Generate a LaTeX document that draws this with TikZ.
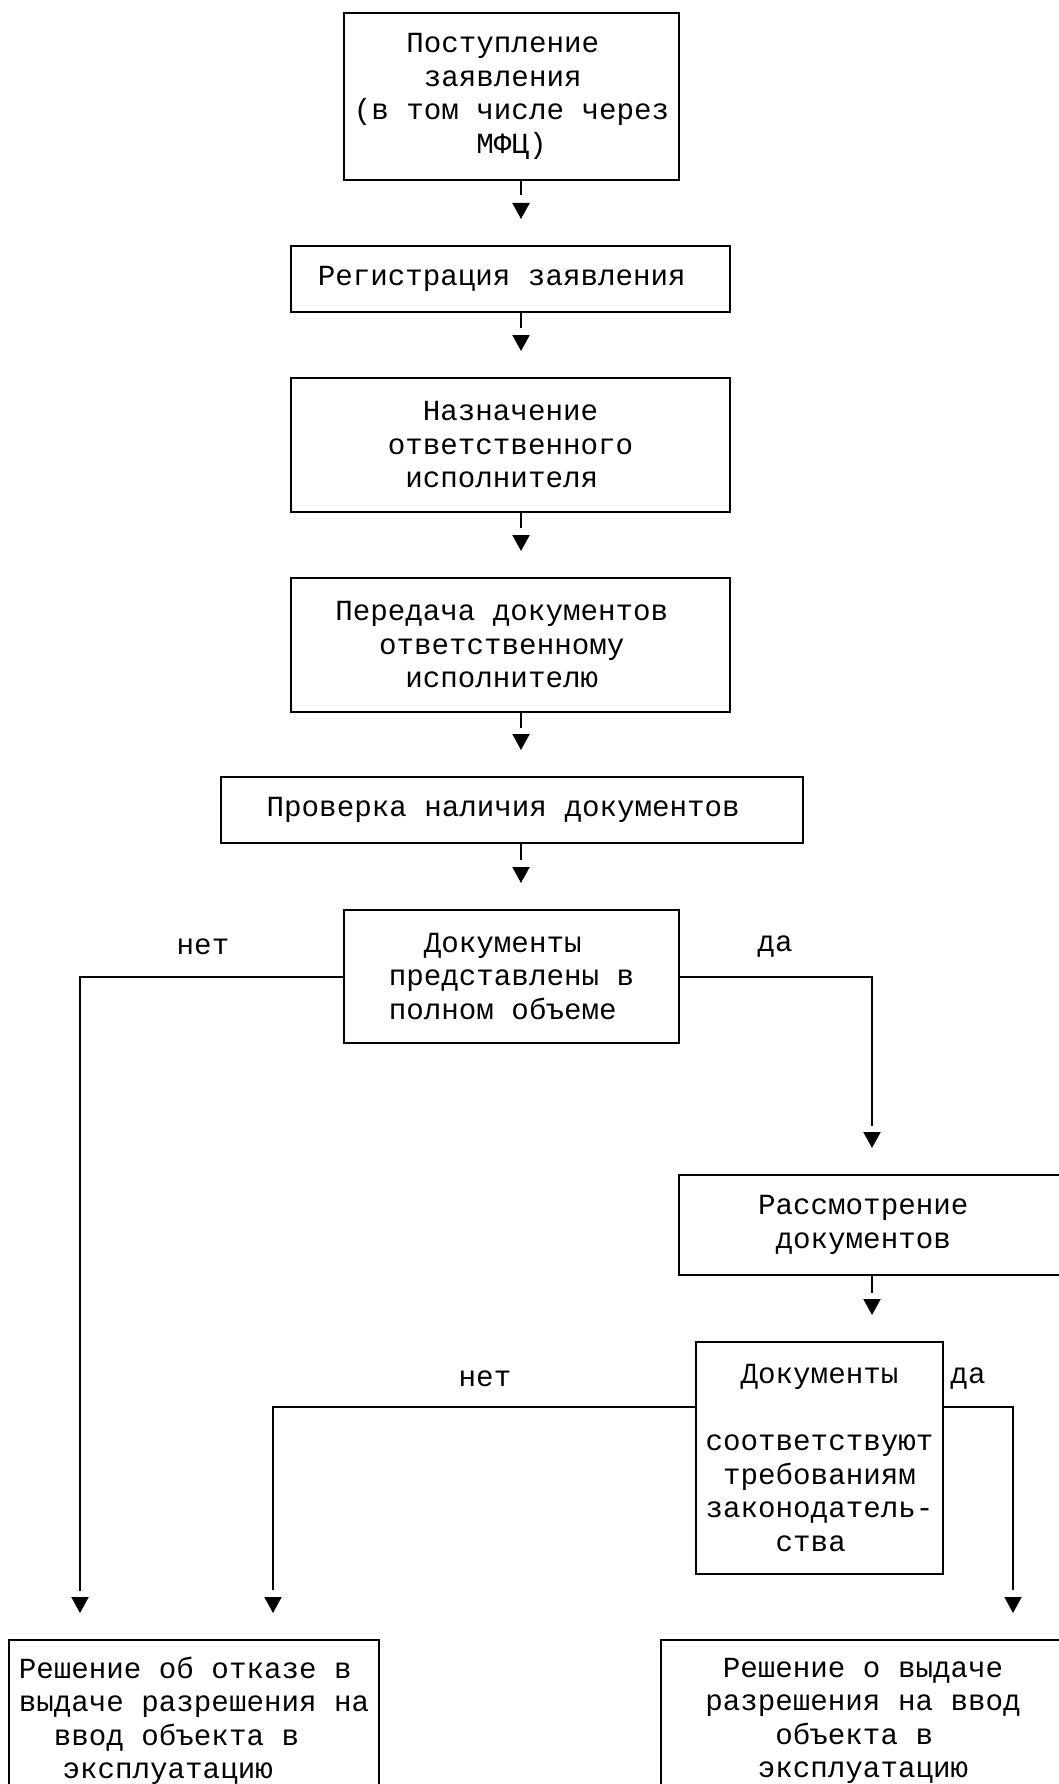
\documentclass[tikz,border=0pt]{standalone}
\usepackage{fontspec}
\setmainfont{Liberation Mono}
\usetikzlibrary{arrows.meta,calc}
\newcommand\pchar{\hphantom{x}}
\begin{document}
\begin{tikzpicture}[x=1pt,y=-1pt,
  box/.style={draw, line width=2pt, inner sep=0pt, align=center,
    font=\fontsize{29.2}{33.5}\selectfont},
  lbl/.style={inner sep=0pt, font=\fontsize{29.2}{33.5}\selectfont},
  conn/.style={line width=2pt, -{Triangle[length=16pt,width=17pt]}},
  stemlen/.style={dash pattern=on #1 off 3000pt}]
\useasboundingbox (0,0) rectangle (1059,1784);
\fill[white] (0,0) rectangle (1059,1784);
\clip (0,0) rectangle (1059,1784);

% columns of the connectors
\coordinate (colA) at (521,0);
\coordinate (colB) at (872,0);
\coordinate (colL) at (80,0);
\coordinate (colM) at (273,0);
\coordinate (colR) at (1013,0);

% boxes
\node[box, minimum width=335pt, minimum height=167pt] (b1) at (511.5,96.5)
  {Поступление\pchar\\заявления\pchar\\(в том числе через\\МФЦ)};
\node[box, minimum width=439pt, minimum height=66pt] (b2) at (510.5,279)
  {Регистрация заявления\pchar};
\node[box, minimum width=439pt, minimum height=134pt] (b3) at (510.5,445)
  {Назначение\\ответственного\\исполнителя\pchar};
\node[box, minimum width=439pt, minimum height=134pt] (b4) at (510.5,645)
  {Передача документов\pchar\\ответственному\pchar\\исполнителю\pchar};
\node[box, minimum width=582pt, minimum height=66pt] (b5) at (512,810)
  {Проверка наличия документов\pchar};
\node[box, minimum width=335pt, minimum height=133pt] (b6) at (511.5,976.5)
  {Документы\pchar\\представлены в\\полном объеме\pchar};
\node[box, minimum width=386pt, minimum height=100pt] (b7) at (872,1225)
  {Рассмотрение\pchar\\документов\pchar};
\node[box, minimum width=247pt, minimum height=232pt] (b8) at (819.5,1458)
  {Документы\\[33.5pt]соответствуют\\требованиям\\законодатель-\\ства\pchar};
\node[box, minimum width=370pt, minimum height=162pt] (bl) at (194,1721)
  {Решение об отказе в\pchar\\выдаче разрешения на\\ввод объекта в\pchar\pchar\\эксплуатацию\pchar\pchar\pchar};
\node[box, minimum width=404pt, minimum height=162pt] (br) at (863,1721)
  {Решение о выдаче\\разрешения на ввод\\объекта в\pchar\\эксплуатацию};

% labels
\node[lbl] (n1) at (203,947) {нет};
\node[lbl] (y1) at (775,947) {да};
\node[lbl] (n2) at (485,1379) {нет};
\node[lbl] (y2) at (968,1379) {да};

% connectors
\draw[conn, stemlen=14pt] (b1.south -| colA) -- ($(b2.north -| colA)+(0,-26)$);
\draw[conn, stemlen=15pt] (b2.south -| colA) -- ($(b3.north -| colA)+(0,-26)$);
\draw[conn, stemlen=15pt] (b3.south -| colA) -- ($(b4.north -| colA)+(0,-26)$);
\draw[conn, stemlen=15pt] (b4.south -| colA) -- ($(b5.north -| colA)+(0,-26)$);
\draw[conn, stemlen=16pt] (b5.south -| colA) -- ($(b6.north -| colA)+(0,-26)$);
\draw[conn, stemlen=341pt] (b6.east) -| ($(b7.north -| colB)+(0,-26)$);
\draw[conn, stemlen=877pt] (b6.west) -| ($(bl.north -| colL)+(0,-26)$);
\draw[conn, stemlen=17pt] (b7.south -| colB) -- ($(b8.north -| colB)+(0,-26)$);
\draw[conn, stemlen=605pt] ($(b8.north west)+(0,66)$) -| ($(bl.north -| colM)+(0,-26)$);
\draw[conn, stemlen=252pt] ($(b8.north east)+(0,66)$) -| ($(br.north -| colR)+(0,-26)$);
\end{tikzpicture}
\end{document}
